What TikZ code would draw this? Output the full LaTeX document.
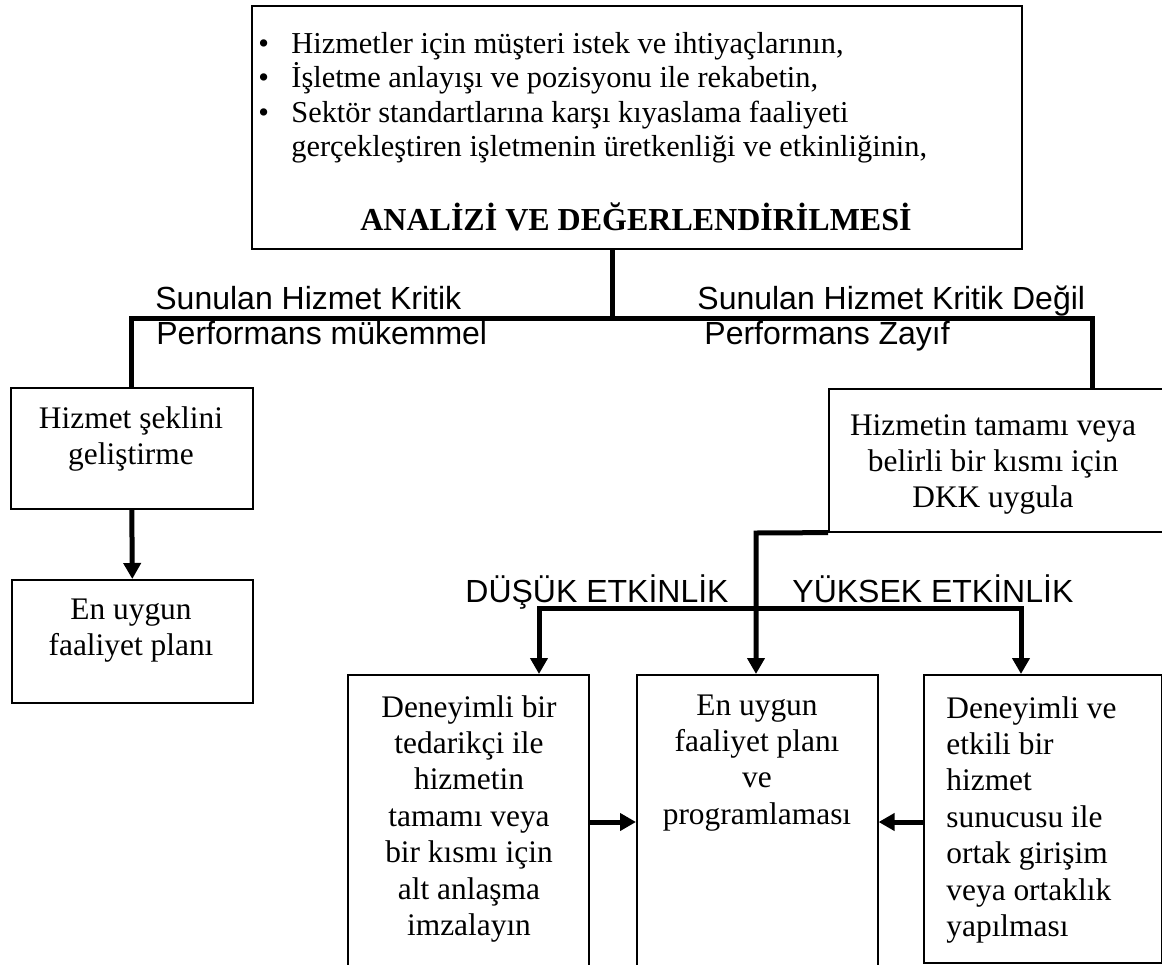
\documentclass[tikz,border=0pt]{standalone}
\usepackage{fontspec}
\setmainfont{Liberation Serif}
\setsansfont{Liberation Sans}
\usetikzlibrary{positioning}
\usetikzlibrary{arrows.meta}

\begin{document}
\begin{tikzpicture}[x=0.5pt, y=-0.5pt, >={Triangle[length=8pt,width=8.5pt]},
    box/.style={rectangle, draw, line width=0.8pt, anchor=north west, inner sep=0pt},
    boxtext/.style={align=center, anchor=base, inner sep=0pt, font=\fontsize{15.7}{18.2}\selectfont},
    lab/.style={anchor=base west, inner sep=0pt, font=\sffamily\fontsize{16}{19}\selectfont},
    link/.style={line width=2.5pt}]

    \useasboundingbox (0,0) rectangle (1162,964);
    \fill[white] (0,0) rectangle (1162,964);
    \clip (0,0) rectangle (1162,964);

    % Analysis box (top); text nodes sit on the baseline of their last line
    \node[box, minimum width=385pt, minimum height=121.5pt] (analiz) at (251,5) {};
    \node[anchor=base west, align=left, inner sep=0pt, font=\fontsize{15.2}{17.25}\selectfont] (maddeler) at (258,156.5)
        {\makebox[16.5pt][l]{\textbullet}Hizmetler için müşteri istek ve ihtiyaçlarının,\\
         \makebox[16.5pt][l]{\textbullet}İşletme anlayışı ve pozisyonu ile rekabetin,\\
         \makebox[16.5pt][l]{\textbullet}Sektör standartlarına karşı kıyaslama faaliyeti\\
         \makebox[16.5pt][l]{}gerçekleştiren işletmenin üretkenliği ve etkinliğinin,};
    \node[anchor=base, inner sep=0pt, font=\bfseries\fontsize{16}{19}\selectfont] (baslik) at (636,230)
        {ANALİZİ VE DEĞERLENDİRİLMESİ};

    % Left branch: critical service
    \node[box, minimum width=121pt, minimum height=60.5pt] (sekil) at (10,387) {};
    \node[boxtext] (sekilT) at (131,464.4) {Hizmet şeklini\\geliştirme};
    \node[box, minimum width=120.5pt, minimum height=61.5pt] (plan) at (11,579) {};
    \node[boxtext] (planT) at (131,655.4) {En uygun\\faaliyet planı};

    % Right branch: not critical
    \node[box, minimum width=173.5pt, minimum height=71.5pt] (dkk) at (828,388) {};
    \node[boxtext] (dkkT) at (993,507.8) {Hizmetin tamamı veya\\belirli bir kısmı için\\DKK uygula};

    % Bottom row
    \node[box, minimum width=120.5pt, minimum height=155pt] (altanl) at (347,674) {};
    \node[boxtext] (altanlT) at (469,935.4) {Deneyimli bir\\tedarikçi ile\\hizmetin\\tamamı veya\\bir kısmı için\\alt anlaşma\\imzalayın};
    \node[box, minimum width=120.5pt, minimum height=155pt] (program) at (636,674) {};
    \node[boxtext] (programT) at (757,824.2) {En uygun\\faaliyet planı\\ve\\programlaması};
    \node[box, minimum width=119pt, minimum height=144pt] (ortak) at (923,674) {};
    \node[boxtext, align=left, anchor=base west] (ortakT) at (946,936.4) {Deneyimli ve\\etkili bir\\hizmet\\sunucusu ile\\ortak girişim\\veya ortaklık\\yapılması};

    % Branch labels
    \node[lab] (kritik) at (155,309) {Sunulan Hizmet Kritik};
    \node[lab] (mukemmel) at (156,344) {Performans mükemmel};
    \node[lab] (degil) at (697,309) {Sunulan Hizmet Kritik Değil};
    \node[lab] (zayif) at (704,344) {Performans Zayıf};
    \node[lab, anchor=base east] (dusuk) at (729,602) {DÜŞÜK ETKİNLİK};
    \node[lab] (yuksek) at (792,602) {YÜKSEK ETKİNLİK};

    % Connectors
    \coordinate (catal) at (612,318);
    \coordinate (sag) at (1092,388);
    \draw[link] (analiz.south -| catal) -- (catal);
    \draw[link] (sekil.north) |- (catal) -| (sag);
    \draw[link, ->] (sekil.south) -- (plan.north);

    \coordinate (kirik) at (756,533);
    \draw[link, ->] (dkk.south west) -- (kirik) -- (kirik |- program.north);

    \coordinate (solkol) at (539,608);
    \coordinate (sagkol) at (1021,608);
    \draw[link, <->] (solkol |- altanl.north) -- (solkol) -- (sagkol) -- (sagkol |- ortak.north);

    \coordinate (okhiza) at (0,822);
    \draw[link, ->] (altanl.east |- okhiza) -- (program.west |- okhiza);
    \draw[link, ->] (ortak.west |- okhiza) -- (program.east |- okhiza);
\end{tikzpicture}
\end{document}
